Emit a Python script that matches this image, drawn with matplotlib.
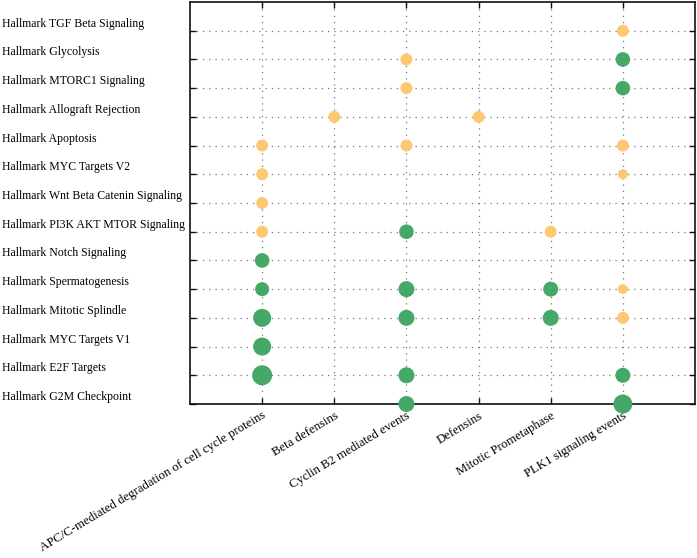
import matplotlib
matplotlib.use("Agg")
import matplotlib.pyplot as plt
import matplotlib.transforms as mtransforms
import numpy as np

# pathways (y axis, bottom to top) and enriched terms (x axis)
pathways = [
    "Hallmark G2M Checkpoint",
    "Hallmark E2F Targets",
    "Hallmark MYC Targets V1",
    "Hallmark Mitotic Splindle",
    "Hallmark Spermatogenesis",
    "Hallmark Notch Signaling",
    "Hallmark PI3K AKT MTOR Signaling",
    "Hallmark Wnt Beta Catenin Signaling",
    "Hallmark MYC Targets V2",
    "Hallmark Apoptosis",
    "Hallmark Allograft Rejection",
    "Hallmark MTORC1 Signaling",
    "Hallmark Glycolysis",
    "Hallmark TGF Beta Signaling",
]
terms = [
    "APC/C-mediated degradation of cell cycle proteins",
    "Beta defensins",
    "Cyclin B2 mediated events",
    "Defensins",
    "Mitotic Prometaphase",
    "PLK1 signaling events",
]

# one entry per dot: term, pathway, overlap count, significant (green) or not
dot_term = ["APC/C-mediated degradation of cell cycle proteins"] * 9 + \
           ["Beta defensins"] + \
           ["Cyclin B2 mediated events"] * 8 + \
           ["Defensins"] + \
           ["Mitotic Prometaphase"] * 3 + \
           ["PLK1 signaling events"] * 9
dot_path = [
    # APC/C
    "Hallmark E2F Targets", "Hallmark MYC Targets V1", "Hallmark Mitotic Splindle",
    "Hallmark Spermatogenesis", "Hallmark Notch Signaling", "Hallmark PI3K AKT MTOR Signaling",
    "Hallmark Wnt Beta Catenin Signaling", "Hallmark MYC Targets V2", "Hallmark Apoptosis",
    # Beta defensins
    "Hallmark Allograft Rejection",
    # Cyclin B2
    "Hallmark G2M Checkpoint", "Hallmark E2F Targets", "Hallmark Mitotic Splindle",
    "Hallmark Spermatogenesis", "Hallmark PI3K AKT MTOR Signaling", "Hallmark Apoptosis",
    "Hallmark MTORC1 Signaling", "Hallmark Glycolysis",
    # Defensins
    "Hallmark Allograft Rejection",
    # Mitotic Prometaphase
    "Hallmark Mitotic Splindle", "Hallmark Spermatogenesis", "Hallmark PI3K AKT MTOR Signaling",
    # PLK1
    "Hallmark G2M Checkpoint", "Hallmark E2F Targets", "Hallmark Mitotic Splindle",
    "Hallmark Spermatogenesis", "Hallmark MYC Targets V2", "Hallmark Apoptosis",
    "Hallmark MTORC1 Signaling", "Hallmark Glycolysis", "Hallmark TGF Beta Signaling",
]
dot_count = [
    7, 6, 6, 4, 4.3, 3, 3, 3, 3,
    3,
    5, 5, 5, 5, 4.3, 3, 3, 3,
    3,
    5, 4.5, 3,
    6.5, 4.5, 3, 2, 2, 3, 4.3, 4.3, 3,
]
dot_sig = [
    1, 1, 1, 1, 1, 0, 0, 0, 0,
    0,
    1, 1, 1, 1, 1, 0, 0, 0,
    0,
    1, 1, 0,
    1, 1, 0, 0, 0, 0, 1, 1, 0,
]

GREEN = "#45a867"
ORANGE = "#fec772"

plt.rcParams['font.family'] = ['Liberation Serif', 'DejaVu Serif']

fig = plt.figure(figsize=(6.97, 5.58), dpi=100)
ax = fig.add_axes([190 / 697, 1 - 404 / 558, 505 / 697, 402 / 558])

xs = np.array([terms.index(t) + 1 for t in dot_term])
ys = np.array([pathways.index(p) for p in dot_path])
diam_px = 6 + 2 * np.array(dot_count)
sizes = (diam_px * 72 / 100) ** 2
cols = [GREEN if s else ORANGE for s in dot_sig]

ax.scatter(xs, ys, s=sizes, c=cols, edgecolors='none', zorder=3, clip_on=False)

ax.set_xlim(0, 7)
ax.set_ylim(0, 14)
ax.set_xticks(range(1, 7))
ax.set_yticks(range(0, 14))

ax.tick_params(axis='both', direction='in', length=4, width=1, color='#111111',
               top=True, right=True)
ax.tick_params(axis='y', pad=135)
ax.tick_params(axis='x', pad=4)

ax.set_xticklabels(terms, rotation=31, ha='right', va='top', rotation_mode='anchor',
                   fontsize=9.2)
ax.set_yticklabels(pathways, ha='left', va='center', fontsize=8.5)
# labels sit a little above their grid line
shift = mtransforms.ScaledTranslation(0, 5 / 72, fig.dpi_scale_trans)
for lbl in ax.get_yticklabels():
    lbl.set_transform(lbl.get_transform() + shift)

ax.grid(True, linestyle=(0, (1, 4)), color='#777777', linewidth=0.9, zorder=0)
ax.set_axisbelow(True)
for sp in ax.spines.values():
    sp.set_linewidth(1.2)
    sp.set_color('#111111')

fig.savefig("out.png", dpi=100)
